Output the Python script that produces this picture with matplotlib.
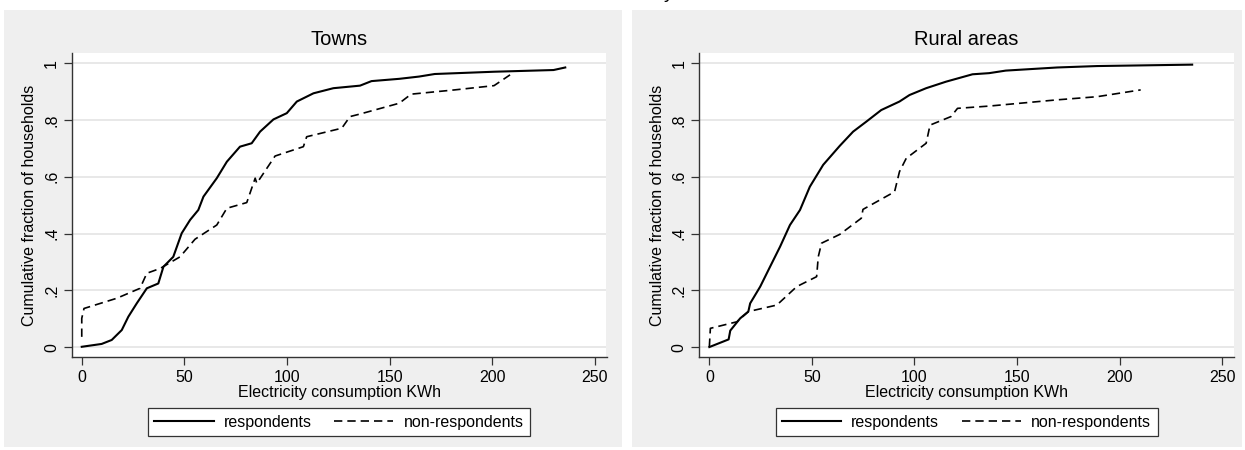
import matplotlib
matplotlib.use("Agg")
import matplotlib.pyplot as plt
from matplotlib.patches import Rectangle

plt.rcParams['font.family'] = ['Liberation Sans', 'DejaVu Sans']

# Towns
towns_resp_x = [0, 9.7, 14.6, 19.5, 22.7, 26.8, 31.7, 37.3, 39.8, 44.6, 48.7, 52.8,
                56.8, 59.3, 65.8, 70.7, 77.1, 82.8, 86.9, 93.4, 99.9, 104.8, 112.9,
                122.6, 135.6, 138.4, 141.2, 154.7, 164.4, 172.0, 200.9, 229.9, 235.6]
towns_resp_y = [0.001, 0.011, 0.025, 0.060, 0.107, 0.154, 0.207, 0.224, 0.283, 0.318,
                0.401, 0.448, 0.483, 0.530, 0.595, 0.653, 0.706, 0.718, 0.759, 0.802,
                0.824, 0.865, 0.894, 0.912, 0.921, 0.929, 0.937, 0.945, 0.953, 0.962,
                0.970, 0.976, 0.985]
towns_non_x = [0, 0, 1.1, 17.1, 28.4, 31.7, 38.2, 47.9, 55.2, 65.8, 70.7, 80.4, 84.5,
               85.3, 94.2, 108.0, 109.6, 126.7, 130.7, 135.6, 154.7, 160.5, 181.7,
               200.9, 208.7]
towns_non_y = [0.036, 0.101, 0.136, 0.172, 0.207, 0.260, 0.277, 0.318, 0.380, 0.430,
               0.489, 0.509, 0.595, 0.577, 0.673, 0.706, 0.741, 0.771, 0.812, 0.821,
               0.859, 0.891, 0.906, 0.921, 0.959]

# Rural areas
rural_resp_x = [0, 9.4, 10.2, 15.0, 19.0, 19.9, 24.8, 29.6, 34.5, 39.3, 44.2, 49.0,
                55.5, 63.6, 70.1, 76.5, 83.8, 92.7, 97.6, 105.7, 115.4, 128.3, 136.4,
                144.5, 169.6, 189.0, 235.4]
rural_resp_y = [0.0, 0.027, 0.058, 0.101, 0.125, 0.154, 0.213, 0.283, 0.354, 0.430,
                0.483, 0.565, 0.642, 0.709, 0.759, 0.794, 0.835, 0.865, 0.888, 0.912,
                0.935, 0.961, 0.965, 0.974, 0.985, 0.990, 0.995]
rural_non_x = [0, 0.5, 13.4, 19.0, 32.9, 42.6, 52.3, 53.1, 54.7, 63.6, 74.1, 74.9,
               90.3, 92.7, 96.0, 105.7, 107.6, 117.8, 121.0, 136.4, 169.6, 189.0, 210.3]
rural_non_y = [0.001, 0.066, 0.089, 0.125, 0.148, 0.213, 0.248, 0.318, 0.366, 0.397,
               0.454, 0.485, 0.547, 0.618, 0.665, 0.718, 0.782, 0.812, 0.841, 0.849,
               0.871, 0.882, 0.906]

yticks = [0, 0.2, 0.4, 0.6, 0.8, 1.0]
ytick_labels = ["0", ".2", ".4", ".6", ".8", "1"]
xticks = [0, 50, 100, 150, 200, 250]

panels = [
    ("Towns", towns_resp_x, towns_resp_y, towns_non_x, towns_non_y),
    ("Rural areas", rural_resp_x, rural_resp_y, rural_non_x, rural_non_y),
]

W, H = 1245, 450
fig = plt.figure(figsize=(12.45, 4.5), dpi=100)
panel_bg = "#efefef"

# grey panel boxes (pixel coords), drawn beneath the axes
for x0, x1 in [(4, 622), (632, 1242)]:
    fig.patches.append(Rectangle((x0 / W, 1 - 447 / H), (x1 - x0) / W, (447 - 10) / H,
                                 transform=fig.transFigure, facecolor=panel_bg,
                                 edgecolor="none", zorder=-5))

axes_px = [(71.7, 606.5), (699.3, 1233.8)]
for (title, rx, ry, nx, ny), (l, r) in zip(panels, axes_px):
    ax = fig.add_axes([l / W, 1 - 357 / H, (r - l) / W, (357 - 53) / H])
    ax.set_facecolor("white")
    for y in yticks:
        ax.axhline(y, color="#e6e6e6", lw=1.3, zorder=1)
    ax.plot(rx, ry, color="black", lw=1.5, zorder=3, label="respondents")
    ax.plot(nx, ny, color="black", lw=1.2, dashes=(5.0, 3.0), zorder=3,
            label="non-respondents")
    ax.set_xlim(-4.9, 255.7)
    ax.set_ylim(-0.035, 1.036)
    ax.set_xticks(xticks)
    ax.set_yticks(yticks)
    ax.set_yticklabels(ytick_labels, rotation=90, va="center")
    for s in ["top", "right"]:
        ax.spines[s].set_visible(False)
    for s in ["left", "bottom"]:
        ax.spines[s].set_color("#333333")
        ax.spines[s].set_linewidth(1.0)
    ax.tick_params(length=5.5, width=0.9, color="#333333", labelsize=11.5, pad=3.5)
    ax.set_title(title, fontsize=14.5, pad=6)
    ax.set_xlabel("Electricity consumption KWh", fontsize=11.5, labelpad=0.5)
    ax.set_ylabel("Cumulative fraction of households", fontsize=11.5, labelpad=5)
    cx = (l + r) / 2 / W
    leg = ax.legend(loc="center", bbox_to_anchor=(cx, 1 - 422 / H),
                    bbox_transform=fig.transFigure, ncol=2, fontsize=11.5,
                    frameon=True, fancybox=False, handlelength=3.7,
                    handletextpad=0.65, columnspacing=1.4, borderpad=0.4,
                    borderaxespad=0)
    leg.get_frame().set_edgecolor("#333333")
    leg.get_frame().set_linewidth(0.9)
    leg.get_frame().set_facecolor("white")
    leg.get_frame().set_alpha(1)

# clipped descender of a figure title above the panels
fig.text(669 / W, 1 + 1.5 / H, "y", fontsize=14, ha="center", va="baseline")

fig.savefig("out.png", dpi=100)
